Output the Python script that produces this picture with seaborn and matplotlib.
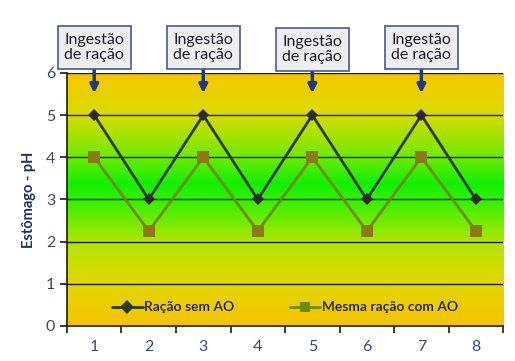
import numpy as np
import pandas as pd
import matplotlib.pyplot as plt
from matplotlib.colors import LinearSegmentedColormap
import seaborn as sns

# dados
pontos = [1, 2, 3, 4, 5, 6, 7, 8]
sem_ao = [5, 3, 5, 3, 5, 3, 5, 3]
com_ao = [4, 2.25, 4, 2.25, 4, 2.25, 4, 2.25]
series = ['Ração sem AO', 'Mesma ração com AO']
ingestao = [1, 3, 5, 7]
yticks = [0, 1, 2, 3, 4, 5, 6]

df = pd.DataFrame({
    'ponto': pontos * 2,
    'ph': sem_ao + com_ao,
    'serie': [series[0]] * len(pontos) + [series[1]] * len(pontos),
})

sns.set_style('white')
plt.rcParams['font.family'] = ['Lato', 'DejaVu Sans']

fig = plt.figure(figsize=(5.15, 3.61), dpi=100)
ax = fig.add_axes([0.130, 0.097, 0.847, 0.701])

# fundo em degrade (amarelo - verde - amarelo)
cmap = LinearSegmentedColormap.from_list('fundo', [
    (0.0, '#f5c400'), (0.167, '#e2d600'), (0.333, '#b0e600'),
    (0.5, '#30f000'), (0.56, '#12f000'), (0.667, '#70ea00'),
    (0.833, '#d8dc00'), (1.0, '#f8c600')])
grad = np.linspace(0, 1, 256).reshape(-1, 1)
ax.imshow(grad, cmap=cmap, aspect='auto', extent=[0.5, 8.5, 0, 6],
          origin='lower', zorder=0)

for y in yticks[1:]:
    ax.axhline(y, color='#1a1a1a', lw=1, zorder=1)

sns.lineplot(data=df, x='ponto', y='ph', hue='serie', style='serie',
             palette=['#2a3a1c', '#6e8c08'], markers=['D', 's'], dashes=False,
             markersize=7, lw=2, mew=0, ax=ax, zorder=3)

# cor dos marcadores
for ln in ax.get_lines():
    yd = list(ln.get_ydata())
    if yd == sem_ao:
        ln.set_markerfacecolor('#2b2b2b'); ln.set_markersize(6.5)
    elif yd == com_ao:
        ln.set_markerfacecolor('#8a7a12'); ln.set_markersize(8)

ax.set_xlim(0.5, 8.5)
ax.set_ylim(0, 6)

# marcacoes de ingestao
for i, x in enumerate(ingestao):
    ytxt = 6.6 if i != 2 else 6.55
    ax.annotate('Ingestão\nde ração', xy=(x, 5.52), xytext=(x, ytxt),
                ha='center', va='center', fontsize=11.5,
                color='#1c1c28', annotation_clip=False, linespacing=1.1,
                bbox=dict(boxstyle='square,pad=0.42', fc='#eeeeee', ec='#4a5a8a', lw=1.2),
                arrowprops=dict(arrowstyle='-|>', color='#1f3a7a', lw=2.5,
                                mutation_scale=12, shrinkA=0, shrinkB=0))

# eixos
sns.despine(ax=ax, top=True, right=True)
for s in ['left', 'bottom']:
    ax.spines[s].set_color('#1a1a1a')
    ax.spines[s].set_linewidth(1.2)
ax.set_yticks(yticks)
ax.set_xticks(np.arange(0.5, 9, 1))
ax.set_xticklabels([])
ax.set_xticks(pontos, minor=True)
ax.set_xticklabels([str(p) for p in pontos], minor=True)
ax.tick_params(axis='x', which='major', length=5, width=1.2, color='#1a1a1a', bottom=True)
ax.tick_params(axis='x', which='minor', length=0, pad=10, labelsize=11.5, labelcolor='#3a4a6e')
ax.tick_params(axis='y', length=5, width=1.2, color='#1a1a1a', left=True,
               labelsize=11.5, labelcolor='#3a4a6e')
ax.set_xlabel('')
ax.set_ylabel('Estômago - pH', fontsize=10.5, fontweight='bold', color='#1f2f5f', labelpad=7)

leg = ax.legend(loc='lower center', bbox_to_anchor=(0.5, 0.0), ncol=2, frameon=False,
                fontsize=10, handlelength=2.2, handletextpad=0.1, columnspacing=4)
for t in leg.get_texts():
    t.set_fontweight('semibold')
    t.set_color('#1a1a28')

fig.savefig('out.png', dpi=100)
